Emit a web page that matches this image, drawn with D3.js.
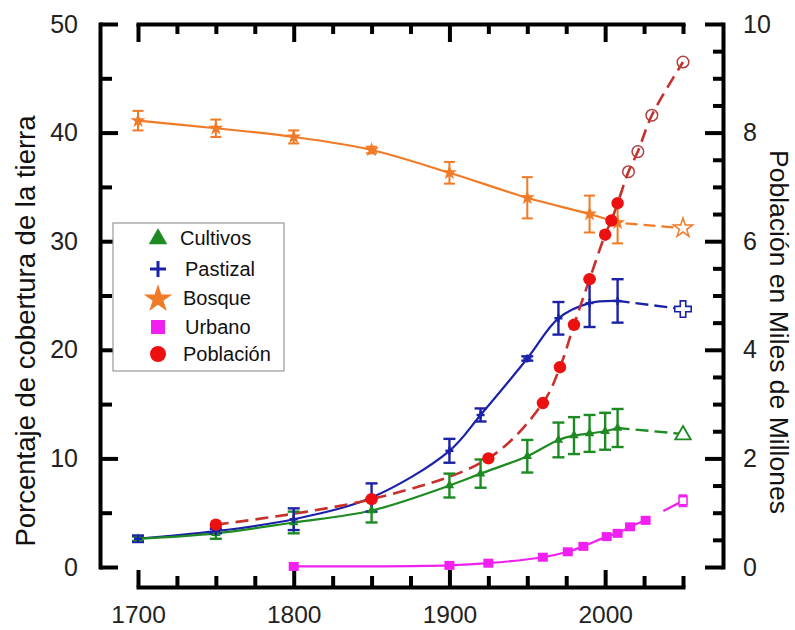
<!DOCTYPE html>
<html><head><meta charset="utf-8">
<script src="https://cdn.jsdelivr.net/npm/d3@7"></script>
<style>body{margin:0;background:#fff} text{font-family:"Liberation Sans",Arial,sans-serif}</style>
</head><body><svg id="c" width="795" height="630"></svg>
<script>
// ---- data ----
const bosqueYears=[1700,1750,1800,1850,1900,1950,1990,2008];
const bosqueVals=[41.1,40.4,39.6,38.4,36.3,34.0,32.5,31.7];
const bosqueErr=[0.9,0.8,0.6,0.3,1.0,1.9,1.7,1.9];
const bosqueProj=[[2008,31.7],[2050,31.2]];

const pastizalYears=[1700,1750,1800,1850,1900,1920,1950,1970,1990,2008];
const pastizalVals=[2.6,3.3,4.4,6.4,10.7,14.0,19.2,22.9,24.3,24.5];
const pastizalErr=[0.3,0.2,1.0,1.3,1.1,0.6,0.2,1.5,2.2,2.0];
const pastizalProj=[[2008,24.5],[2050,23.75]];

const cultivosYears=[1700,1750,1800,1850,1900,1920,1950,1970,1980,1990,2000,2008];
const cultivosVals=[2.6,3.1,4.1,5.2,7.5,8.6,10.2,11.7,12.1,12.3,12.5,12.8];
const cultivosErr=[0.2,0.5,1.0,1.1,1.1,1.3,1.5,1.6,1.7,1.7,1.7,1.75];
const cultivosProj=[[2008,12.8],[2050,12.25]];

const urbanoYears=[1800,1900,1925,1960,1976,1986,2001,2008,2016,2026];
const urbanoVals=[0.05,0.15,0.35,0.9,1.4,1.9,2.8,3.1,3.7,4.3];
const urbanoErr=[0,0,0,0,0,0,0,0,0.2,0.3];
const urbanoProjYear=2050, urbanoProjVal=6.1, urbanoProjErr=0.5;

const poblacionYears=[1750,1850,1925,1960,1971,1980,1990,2000,2004,2008];
const poblacionVals=[0.78,1.25,2.0,3.02,3.68,4.46,5.3,6.12,6.38,6.7];
const poblacionProjYears=[2015,2021,2030,2050];
const poblacionProjVals=[7.28,7.65,8.32,9.3];

const xMajor=[1700,1800,1900,2000];
const xMinor=[1725,1750,1775,1825,1850,1875,1925,1950,1975,2025,2050];
const yLMajor=[0,10,20,30,40,50];
const yLMinor=[5,15,25,35,45];
const yRMajor=[0,2,4,6,8,10];
const yRMinor=[0.5,1,1.5,2.5,3,3.5,4.5,5,5.5,6.5,7,7.5,8.5,9,9.5];

const legendLabels=["Cultivos","Pastizal","Bosque","Urbano","Población"];

// ---- styles ----
const C={green:"#1e8a22",blue:"#1c22a8",orange:"#f07a26",magenta:"#f020f0",red:"#ec1010",redLine:"#c8302c"};

const svg=d3.select("#c");
const x=d3.scaleLinear().domain([1700,2050]).range([138,683]);
const yL=d3.scaleLinear().domain([0,50]).range([567,24]);
const yR=d3.scaleLinear().domain([0,10]).range([567,24]);

function styleAxis(g,fs){
  g.selectAll("path.domain").attr("stroke","#000").attr("stroke-width",4).attr("stroke-linecap","square");
  g.selectAll(".tick line").attr("stroke","#000").attr("stroke-width",4);
  g.selectAll(".tick text").attr("font-size",fs).attr("fill","#222").attr("font-family","Liberation Sans, Arial, sans-serif");
}
// left
let g=svg.append("g").attr("transform","translate(100,0)")
 .call(d3.axisLeft(yL).tickValues(yLMajor).tickSizeInner(-18).tickSizeOuter(0).tickPadding(22));
styleAxis(g,25);
g=svg.append("g").attr("transform","translate(100,0)")
 .call(d3.axisLeft(yL).tickValues(yLMinor).tickSizeInner(-12).tickSizeOuter(0).tickFormat(""));
g.select(".domain").remove(); styleAxis(g,25);
// right
g=svg.append("g").attr("transform","translate(723,0)")
 .call(d3.axisRight(yR).tickValues(yRMajor).tickSizeInner(-18).tickSizeOuter(0).tickPadding(20));
styleAxis(g,25);
g=svg.append("g").attr("transform","translate(723,0)")
 .call(d3.axisRight(yR).tickValues(yRMinor).tickSizeInner(-10).tickSizeOuter(0).tickFormat(""));
g.select(".domain").remove(); styleAxis(g,25);
// bottom
g=svg.append("g").attr("transform","translate(0,587)")
 .call(d3.axisBottom(x).tickValues(xMajor).tickSizeInner(-17).tickSizeOuter(0).tickPadding(19).tickFormat(d3.format("d")));
styleAxis(g,24.5);
g=svg.append("g").attr("transform","translate(0,587)")
 .call(d3.axisBottom(x).tickValues(xMinor).tickSizeInner(-11).tickSizeOuter(0).tickFormat(""));
g.select(".domain").remove(); styleAxis(g,25);
// top
g=svg.append("g").attr("transform","translate(0,24)")
 .call(d3.axisTop(x).tickValues(xMajor).tickSizeInner(-18).tickSizeOuter(0).tickFormat(""));
styleAxis(g,25);
g=svg.append("g").attr("transform","translate(0,24)")
 .call(d3.axisTop(x).tickValues(xMinor).tickSizeInner(-10).tickSizeOuter(0).tickFormat(""));
g.select(".domain").remove(); styleAxis(g,25);

// titles
svg.append("text").attr("transform","translate(35,331) rotate(-90)").attr("text-anchor","middle")
 .attr("font-size",27.5).attr("fill","#111").text("Porcentaje de cobertura de la tierra");
svg.append("text").attr("transform","translate(770,332) rotate(90)").attr("text-anchor","middle")
 .attr("font-size",26.5).attr("fill","#111").text("Población en Miles de Millones");

const curve=d3.curveCatmullRom.alpha(0.5);
const lineL=d3.line().x(d=>x(d[0])).y(d=>yL(d[1])).curve(curve);
const lineR=d3.line().x(d=>x(d[0])).y(d=>yR(d[1])).curve(curve);
const straightL=d3.line().x(d=>x(d[0])).y(d=>yL(d[1]));
const zip=(a,b)=>a.map((v,i)=>[v,b[i]]);

const plot=svg.append("g");
// solid lines
[[bosqueYears,bosqueVals,C.orange],[pastizalYears,pastizalVals,C.blue],[cultivosYears,cultivosVals,C.green],[urbanoYears,urbanoVals,C.magenta]]
.forEach(([yy,vv,col])=>{
  plot.append("path").attr("d",lineL(zip(yy,vv))).attr("fill","none").attr("stroke",col).attr("stroke-width",2.2);
});
// projection dashed lines
[[bosqueProj,C.orange,"12 6",-8],[pastizalProj,C.blue,"13 6",-18],[cultivosProj,C.green,"13 6",-18]].forEach(([p,col,da,off])=>{
  plot.append("path").attr("d",straightL(p)).attr("fill","none").attr("stroke",col).attr("stroke-width",2.4)
   .attr("stroke-dasharray",da).attr("stroke-dashoffset",off);
});
// urbano projection segment
plot.append("path").attr("d",straightL([[urbanoYears[urbanoYears.length-1],urbanoVals[urbanoVals.length-1]],[urbanoProjYear,urbanoProjVal]]))
 .attr("fill","none").attr("stroke",C.magenta).attr("stroke-width",2.4).attr("stroke-dasharray","0 20 60");
// population dashed
const popAll=zip(poblacionYears.concat(poblacionProjYears),poblacionVals.concat(poblacionProjVals));
plot.append("path").attr("d",lineR(popAll)).attr("fill","none").attr("stroke",C.redLine).attr("stroke-width",2.6).attr("stroke-dasharray","13 7");

// error bars
function errBars(yy,vv,ee,col,cap,sw){
  yy.forEach((yr,i)=>{
    const e=ee[i]; if(!e) return;
    const cx=x(yr),y1=yL(vv[i]-e),y2=yL(vv[i]+e);
    plot.append("line").attr("x1",cx).attr("x2",cx).attr("y1",y1).attr("y2",y2).attr("stroke",col).attr("stroke-width",sw);
    [y1,y2].forEach(yy2=>plot.append("line").attr("x1",cx-cap/2).attr("x2",cx+cap/2).attr("y1",yy2).attr("y2",yy2).attr("stroke",col).attr("stroke-width",sw));
  });
}
errBars(bosqueYears,bosqueVals,bosqueErr,C.orange,11,2);
errBars(cultivosYears,cultivosVals,cultivosErr,C.green,12,2.4);
errBars(pastizalYears,pastizalVals,pastizalErr,C.blue,12,2.4);
errBars(urbanoYears,urbanoVals,urbanoErr,C.magenta,8,2);
errBars([urbanoProjYear],[urbanoProjVal],[urbanoProjErr],C.magenta,9,2);

// markers
const sym=(type,size)=>d3.symbol().type(type).size(size)();
bosqueYears.forEach((yr,i)=>plot.append("path").attr("d",sym(d3.symbolStar,70)).attr("transform",`translate(${x(yr)},${yL(bosqueVals[i])})`).attr("fill",C.orange));
cultivosYears.forEach((yr,i)=>plot.append("path").attr("d",sym(d3.symbolTriangle,40)).attr("transform",`translate(${x(yr)},${yL(cultivosVals[i])})`).attr("fill",C.green));
pastizalYears.forEach((yr,i)=>{
  const cx=x(yr),cy=yL(pastizalVals[i]);
  plot.append("path").attr("d",`M${cx-4},${cy}H${cx+4}M${cx},${cy-4}V${cy+4}`).attr("stroke",C.blue).attr("stroke-width",2.4);
});
urbanoYears.forEach((yr,i)=>plot.append("rect").attr("x",x(yr)-5).attr("y",yL(urbanoVals[i])-4.5).attr("width",10).attr("height",9).attr("fill",C.magenta));
plot.append("rect").attr("x",x(urbanoProjYear)-4).attr("y",yL(urbanoProjVal)-4).attr("width",8).attr("height",8).attr("fill","#fff").attr("stroke",C.magenta).attr("stroke-width",1.5);
poblacionYears.forEach((yr,i)=>plot.append("circle").attr("cx",x(yr)).attr("cy",yR(poblacionVals[i])).attr("r",6.2).attr("fill",C.red));
poblacionProjYears.forEach((yr,i)=>plot.append("circle").attr("cx",x(yr)).attr("cy",yR(poblacionProjVals[i])).attr("r",5.8).attr("fill","none").attr("stroke","#b04040").attr("stroke-width",1.5));
// open projection markers
plot.append("path").attr("d",sym(d3.symbolStar,115)).attr("transform",`translate(${x(bosqueProj[1][0])},${yL(bosqueProj[1][1])})`).attr("fill","#fff").attr("stroke",C.orange).attr("stroke-width",1.5);
plot.append("path").attr("d",sym(d3.symbolCross,150)).attr("transform",`translate(${x(pastizalProj[1][0])},${yL(pastizalProj[1][1])})`).attr("fill","#fff").attr("stroke",C.blue).attr("stroke-width",1.6);
plot.append("path").attr("d",sym(d3.symbolTriangle,105)).attr("transform",`translate(${x(cultivosProj[1][0])},${yL(cultivosProj[1][1])+1})`).attr("fill","#fff").attr("stroke",C.green).attr("stroke-width",1.8);

// legend
const lg=svg.append("g").attr("transform","translate(113,223)");
lg.append("rect").attr("width",171).attr("height",148).attr("fill","#fff").attr("stroke","#999").attr("stroke-width",1.2);
const rows=[15,46,75,104,131];
const textX=[67,72,70,72,70];
legendLabels.forEach((lab,i)=>{
  const cy=rows[i], cx=45;
  const it=lg.append("g");
  if(i===0) it.append("path").attr("d",sym(d3.symbolTriangle,150)).attr("transform",`translate(${cx},${cy+1})`).attr("fill",C.green);
  if(i===1) it.append("path").attr("d",`M${cx-8},${cy}H${cx+8}M${cx},${cy-8}V${cy+8}`).attr("stroke",C.blue).attr("stroke-width",3);
  if(i===2) it.append("path").attr("d",sym(d3.symbolStar,250)).attr("transform",`translate(${cx},${cy+1})`).attr("fill",C.orange);
  if(i===3) it.append("rect").attr("x",cx-7).attr("y",cy-7).attr("width",14).attr("height",14).attr("fill",C.magenta);
  if(i===4) it.append("circle").attr("cx",cx).attr("cy",cy).attr("r",8).attr("fill",C.red);
  it.append("text").attr("x",textX[i]).attr("y",cy+7).attr("font-size",20).attr("fill","#111").text(lab);
});
</script></body></html>
